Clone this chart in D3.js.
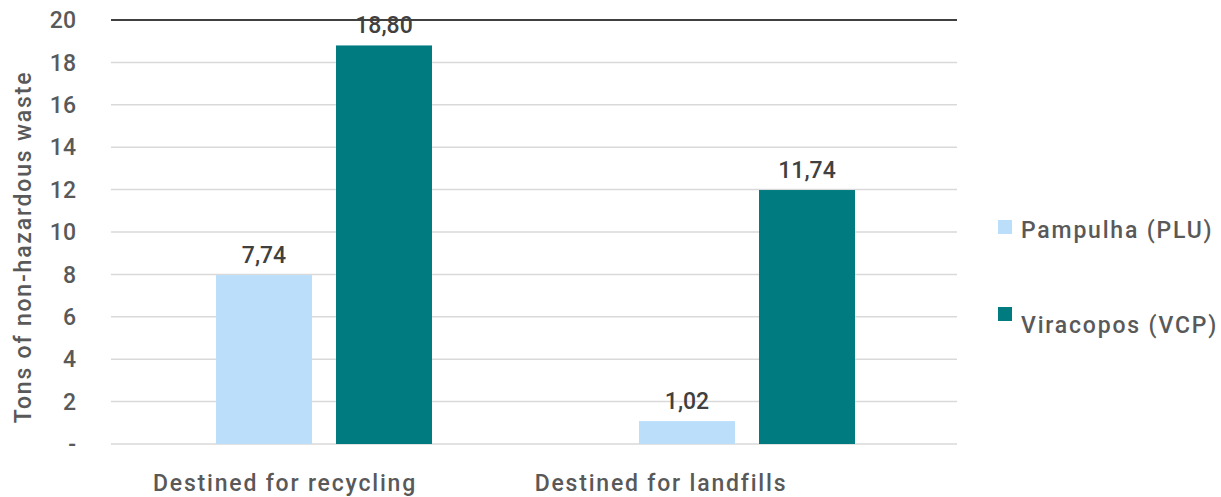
<!DOCTYPE html>
<html>
<head>
<meta charset="utf-8">
<script src="https://cdn.jsdelivr.net/npm/d3@7"></script>
<style>
  body { margin: 0; background: #fff; }
  text { font-family: Roboto, sans-serif; font-weight: 500; }
  .words { letter-spacing: 1.8px; }
</style>
</head>
<body>
<svg id="chart" width="1221" height="497"></svg>
<script>
const categories = ['Destined for recycling', 'Destined for landfills'];
const series = ['Pampulha (PLU)', 'Viracopos (VCP)'];
// bar heights as drawn, and the printed labels
const pampulha = [7.97, 1.08];
const viracopos = [18.8, 11.98];
const pampulhaLabels = ['7,74', '1,02'];
const viracoposLabels = ['18,80', '11,74'];
const yTicks = [0, 2, 4, 6, 8, 10, 12, 14, 16, 18, 20];
const colors = ['#bbdffb', '#007c80'];

const svg = d3.select('#chart');
const margin = { left: 111, right: 264, top: 20, bottom: 53 };
const width = 1221 - margin.left - margin.right;
const height = 497 - margin.top - margin.bottom;

const g = svg.append('g')
  .attr('transform', 'translate(' + margin.left + ',' + margin.top + ')');

const x = d3.scaleBand().domain(categories).range([0, width]);
const xs = d3.scaleBand().domain(series).range([105, 321]).paddingInner(0.2);
// category labels sit a little left of the bar groups
const xLabel = d3.scaleBand().domain(categories).range([-14, 738]);
const y = d3.scaleLinear().domain([0, 20]).range([height, 0]);

// gridlines
g.selectAll('.grid')
  .data(yTicks)
  .enter().append('line')
  .attr('x1', 0).attr('x2', width)
  .attr('y1', d => y(d)).attr('y2', d => y(d))
  .attr('stroke', d => d === 20 ? '#404040' : '#d9d9d9')
  .attr('stroke-width', d => d === 20 ? 2 : 1.5);

// y axis labels
g.selectAll('.ytick')
  .data(yTicks)
  .enter().append('text')
  .attr('x', -35)
  .attr('y', d => y(d))
  .attr('dy', '0.36em')
  .attr('text-anchor', 'end')
  .attr('font-size', 23)
  .attr('fill', '#595959')
  .text(d => d === 0 ? '-' : d);

svg.append('text')
  .attr('class', 'words')
  .attr('transform', 'translate(31,247) rotate(-90)')
  .attr('text-anchor', 'middle')
  .attr('font-size', 23)
  .attr('fill', '#595959')
  .text('Tons of non-hazardous waste');

// x category labels
g.selectAll('.xlab')
  .data(categories)
  .enter().append('text')
  .attr('class', 'words')
  .attr('x', d => xLabel(d) + xLabel.bandwidth() / 2)
  .attr('y', height + 47)
  .attr('text-anchor', 'middle')
  .attr('font-size', 23)
  .attr('fill', '#595959')
  .text(d => d);

const rows = [
  { name: series[0], values: pampulha, labels: pampulhaLabels, color: colors[0] },
  { name: series[1], values: viracopos, labels: viracoposLabels, color: colors[1] }
];

rows.forEach((s, k) => {
  const bars = g.selectAll('.bar-' + k)
    .data(categories.map((c, i) => ({ c: c, v: s.values[i], l: s.labels[i] })))
    .enter();
  bars.append('rect')
    .attr('x', d => x(d.c) + xs(s.name))
    .attr('y', d => y(d.v))
    .attr('width', xs.bandwidth())
    .attr('height', d => y(0) - y(d.v))
    .attr('fill', s.color);
  bars.append('text')
    .attr('x', d => x(d.c) + xs(s.name) + xs.bandwidth() / 2)
    .attr('y', d => y(d.v) - 12)
    .attr('text-anchor', 'middle')
    .attr('font-size', 23)
    .attr('fill', '#404040')
    .text(d => d.l);
});

// legend
const legend = svg.selectAll('.legend')
  .data(rows)
  .enter().append('g')
  .attr('transform', (d, i) => 'translate(998,' + (220 + i * 87) + ')');
legend.append('rect')
  .attr('width', 14).attr('height', 14)
  .attr('fill', d => d.color);
legend.append('text')
  .attr('class', 'words')
  .attr('x', 23)
  .attr('y', (d, i) => 18 + i * 8)
  .attr('font-size', 23)
  .attr('fill', '#595959')
  .text(d => d.name);
</script>
</body>
</html>
